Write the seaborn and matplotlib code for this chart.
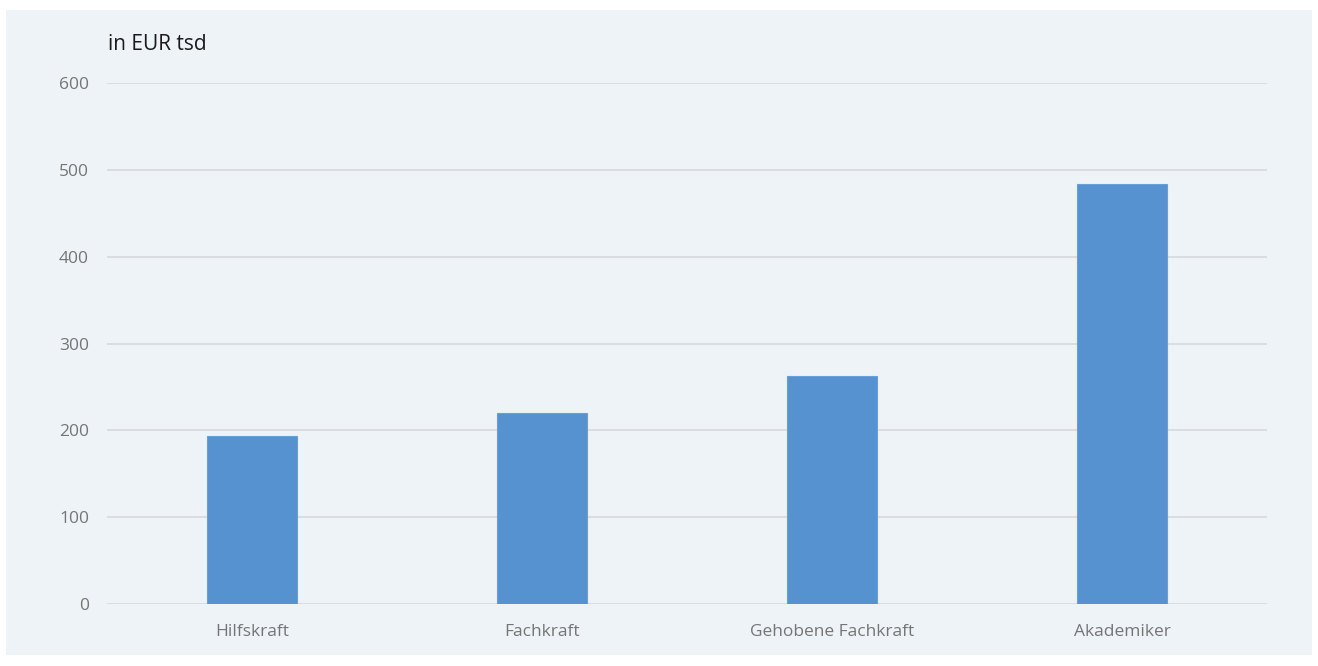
import matplotlib
matplotlib.use("Agg")
import matplotlib.pyplot as plt
import seaborn as sns
import pandas as pd
from matplotlib.patches import Rectangle

# Werte (in EUR tsd)
kategorien = ["Hilfskraft", "Fachkraft", "Gehobene Fachkraft", "Akademiker"]
werte = [194, 220, 263, 484]
y_ticks = [0, 100, 200, 300, 400, 500, 600]

df = pd.DataFrame({"kategorie": kategorien, "wert": werte})

sns.set_style("white")
plt.rcParams["font.family"] = ["Open Sans", "DejaVu Sans"]

bg = "#EEF3F7"
fig = plt.figure(figsize=(13.18, 6.66), dpi=100, facecolor="white")
# heller Hintergrund-Kasten (hinter den Achsen)
fig.patches.append(Rectangle((6 / 1318, 1 - 655 / 666), 1306 / 1318, 645 / 666,
                             transform=fig.transFigure, facecolor=bg,
                             edgecolor="none", zorder=-5))

ax = fig.add_axes([107 / 1318, 62 / 666, 1160 / 1318, 521 / 666])
ax.patch.set_alpha(0)

sns.barplot(data=df, x="kategorie", y="wert", color="#5592CF", saturation=1,
            width=0.31, edgecolor="#6A9FD6", linewidth=0.8, ax=ax, zorder=3)

ax.set_ylim(0, 600)
ax.set_xlim(-0.5, 3.5)
ax.set_yticks(y_ticks)
ax.yaxis.grid(True, color="#D5D9DD", linewidth=1.2, zorder=0)
ax.set_axisbelow(True)
for s in ax.spines.values():
    s.set_visible(False)
ax.set_xlabel("")
ax.set_ylabel("")
ax.tick_params(axis="both", length=0, labelsize=12.5, labelcolor="#757575")
ax.tick_params(axis="y", pad=13)
ax.tick_params(axis="x", pad=14.5)

fig.text(108 / 1318, 1 - 45 / 666, "in EUR tsd", fontsize=15, color="#1a1a1a",
         ha="left", va="center")

fig.savefig("out.png", dpi=100, facecolor="white")
